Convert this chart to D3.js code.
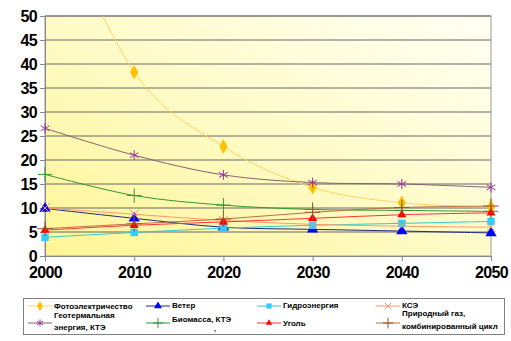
<!DOCTYPE html>
<html>
<head>
<meta charset="utf-8">
<script src="https://cdn.jsdelivr.net/npm/d3@7/dist/d3.min.js"></script>
<style>
  body { margin: 0; background: #fff; }
  svg { display: block; }
  .tick text { font-family: "Liberation Sans", Arial, sans-serif; font-weight: bold; font-size: 16px; letter-spacing: -0.6px; fill: #000; }
  .legend text { font-family: "Liberation Sans", Arial, sans-serif; font-weight: bold; font-size: 8px; fill: #000; }
</style>
</head>
<body>
<script>
// cost by source, 2000-2050
var years = [2000, 2010, 2020, 2030, 2040, 2050];
var solarPV    = [76, 38.3, 22.8, 14.3, 11.1, 10.2];
var wind       = [9.9, 7.85, 6.0, 5.55, 5.2, 4.8];
var hydro      = [3.9, 4.9, 5.8, 6.4, 6.8, 7.2];
var csp        = [10.0, 8.7, 7.4, 6.6, 6.2, 6.0];
var geothermal = [26.6, 21.0, 16.9, 15.3, 15.0, 14.3];
var biomass    = [17.0, 12.6, 10.6, 9.7, 9.5, 9.3];
var coal       = [5.4, 6.4, 7.1, 7.85, 8.6, 9.0];
var gasCC      = [5.7, 6.7, 7.7, 9.1, 10.1, 10.4];

var yTicks = [0, 5, 10, 15, 20, 25, 30, 35, 40, 45, 50];

var width = 511, height = 341;
var pLeft = 45, pRight = 491, pTop = 16, pBottom = 256;

// label lines, with baseline offsets from the legend row's marker
var series = [
  { name: ["Фотоэлектричество"], dy: [3], values: solarPV, line: "#FFD45E", mark: "#FFC000", symbol: d3.symbolDiamond, size: 60, filled: true },
  { name: ["Ветер"], dy: [2], values: wind, line: "#1F2A80", mark: "#0000FF", symbol: d3.symbolTriangle, size: 55, filled: true },
  { name: ["Гидроэнергия"], dy: [2], values: hydro, line: "#33CCCC", mark: "#33CCFF", symbol: d3.symbolSquare, size: 55, filled: true },
  { name: ["КСЭ"], dy: [2], values: csp, line: "#FF9966", mark: "#FF9966", symbol: d3.symbolTimes, size: 60, filled: false },
  { name: ["Геотермальная", "энергия, КТЭ"], dy: [-5, 7], values: geothermal, line: "#8A6070", mark: "#993399", symbol: d3.symbolAsterisk, size: 70, filled: false },
  { name: ["Биомасса, КТЭ"], dy: [-1], values: biomass, line: "#339933", mark: "#339933", symbol: d3.symbolPlus, size: 70, filled: false },
  { name: ["Уголь"], dy: [3], values: coal, line: "#FF3333", mark: "#FF0000", symbol: d3.symbolTriangle, size: 35, filled: true },
  { name: ["Природный газ,", "комбинированный цикл"], dy: [-7, 6], values: gasCC, line: "#B8704A", mark: "#A0522D", symbol: d3.symbolPlus, size: 80, filled: false }
];

var x = d3.scaleLinear().domain([2000, 2050]).range([pLeft, pRight]);
var y = d3.scaleLinear().domain([0, 50]).range([pBottom, pTop]);

var svg = d3.select("body").append("svg")
  .attr("width", width)
  .attr("height", height);

var defs = svg.append("defs");
var grad = defs.append("linearGradient")
  .attr("id", "plotFill")
  .attr("x1", 0).attr("y1", 1).attr("x2", 1).attr("y2", 0);
grad.append("stop").attr("offset", 0).attr("stop-color", "#FFF595");
grad.append("stop").attr("offset", 0.5).attr("stop-color", "#FFFBC8");
grad.append("stop").attr("offset", 1).attr("stop-color", "#FFFFF4");

defs.append("clipPath").attr("id", "plotClip")
  .append("rect")
  .attr("x", pLeft).attr("y", pTop)
  .attr("width", pRight - pLeft).attr("height", pBottom - pTop);

// plot area
svg.append("rect")
  .attr("x", pLeft).attr("y", pTop)
  .attr("width", pRight - pLeft).attr("height", pBottom - pTop)
  .attr("fill", "url(#plotFill)")
  .attr("stroke", "#9a9a9a");

// gridlines
svg.append("g")
  .selectAll("line")
  .data(yTicks.filter(function(d) { return d > 0; }))
  .enter().append("line")
  .attr("x1", pLeft).attr("x2", pRight)
  .attr("y1", function(d) { return y(d); })
  .attr("y2", function(d) { return y(d); })
  .attr("stroke", "#666");

// axes
var yAxis = svg.append("g")
  .attr("transform", "translate(" + pLeft + ",0)")
  .call(d3.axisLeft(y).tickValues(yTicks).tickSize(5).tickPadding(3).tickFormat(d3.format("d")));
yAxis.select(".domain").attr("stroke", "#888");
yAxis.selectAll(".tick line").attr("stroke", "#888");

var xAxis = svg.append("g")
  .attr("transform", "translate(0," + pBottom + ")")
  .call(d3.axisBottom(x).tickValues(years).tickSize(5).tickPadding(6).tickFormat(d3.format("d")));
xAxis.select(".domain").attr("stroke", "#888");
xAxis.selectAll(".tick line").attr("stroke", "#888");

// series lines and markers
var line = d3.line()
  .x(function(d, i) { return x(years[i]); })
  .y(function(d) { return y(d); })
  .curve(d3.curveCatmullRom.alpha(0));

var plot = svg.append("g").attr("clip-path", "url(#plotClip)");

series.forEach(function(s) {
  plot.append("path")
    .attr("d", line(s.values))
    .attr("fill", "none")
    .attr("stroke", s.line)
    .attr("stroke-width", 1);
});

var marks = svg.append("g");
series.forEach(function(s) {
  marks.selectAll(null)
    .data(s.values.map(function(v, i) { return { year: years[i], value: v }; })
      .filter(function(d) { return d.value <= 50; }))
    .enter().append("path")
    .attr("transform", function(d) { return "translate(" + x(d.year) + "," + y(d.value) + ")"; })
    .attr("d", d3.symbol().type(s.symbol).size(s.size))
    .attr("fill", s.filled ? s.mark : "none")
    .attr("stroke", s.mark)
    .attr("stroke-width", s.filled ? 0 : 1);
});

// legend
var legend = svg.append("g").attr("class", "legend");
legend.append("rect")
  .attr("x", 23.5).attr("y", 298.5)
  .attr("width", 481).attr("height", 36)
  .attr("fill", "#fff")
  .attr("stroke", "#808080");

var colX = [28, 146, 257, 376];
var rowY = [306, 323];

series.forEach(function(s, i) {
  var cx = colX[i % 4], cy = rowY[Math.floor(i / 4)];
  var g = legend.append("g").attr("transform", "translate(" + cx + "," + cy + ")");
  g.append("line")
    .attr("x1", 0).attr("x2", 24)
    .attr("stroke", s.line);
  g.append("path")
    .attr("transform", "translate(12,0)")
    .attr("d", d3.symbol().type(s.symbol).size(s.size * 0.5))
    .attr("fill", s.filled ? s.mark : "none")
    .attr("stroke", s.mark)
    .attr("stroke-width", s.filled ? 0 : 1);
  s.name.forEach(function(t, j) {
    g.append("text")
      .attr("x", 26)
      .attr("y", s.dy[j])
      .text(t);
  });
});

legend.append("text")
  .attr("x", 214).attr("y", 331)
  .style("font-size", "7px")
  .attr("fill", "#666")
  .text(",");
</script>
</body>
</html>
